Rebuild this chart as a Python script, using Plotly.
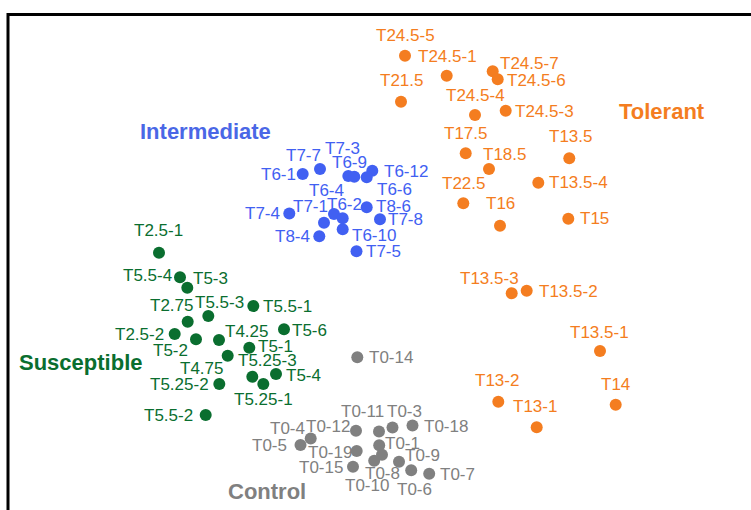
import plotly.graph_objects as go

# ---------------- data (score-plot coordinates) ----------------
tolerant_labels = ["T24.5-5", "T24.5-1", "T24.5-7", "T24.5-6", "T21.5", "T24.5-4", "T24.5-3",
                   "T17.5", "T18.5", "T13.5", "T22.5", "T13.5-4", "T16", "T15",
                   "T13.5-3", "T13.5-2", "T13.5-1", "T13-2", "T14", "T13-1"]
tolerant_x = [405.0, 446.7, 492.7, 497.7, 401.0, 475.0, 505.7, 465.7, 489.0, 569.3, 463.3, 538.3,
              500.0, 568.3, 511.7, 526.7, 600.0, 498.3, 615.7, 536.7]
tolerant_y = [454.3, 434.3, 438.7, 430.7, 408.3, 395.0, 399.3, 356.7, 341.0, 351.7, 306.7, 327.3,
              284.3, 291.3, 216.7, 219.3, 159.0, 108.3, 105.3, 82.7]

intermediate_labels = ["T6-1", "T7-7", "T6-9", "T7-3", "T6-12", "T6-6", "T6-4", "T7-1", "T6-2",
                       "T6-10", "T8-6", "T7-8", "T7-4", "T8-4", "T7-5"]
intermediate_x = [302.7, 320.0, 348.3, 354.3, 372.3, 366.7, 334.0, 324.0, 342.7, 342.7, 366.7,
                  380.0, 289.3, 319.3, 356.5]
intermediate_y = [336.0, 341.0, 334.0, 333.3, 339.3, 332.7, 296.0, 287.3, 291.7, 280.7, 302.7,
                  290.7, 296.5, 273.7, 258.7]

susceptible_labels = ["T2.5-1", "T5.5-4", "T5-3", "T5.5-1", "T5.5-3", "T2.75", "T2.5-2", "T5-6",
                      "T5-2", "T4.25", "T5-1", "T4.75", "T5.25-3", "T5-4", "T5.25-1", "T5.25-2",
                      "T5.5-2"]
susceptible_x = [159.0, 180.0, 187.3, 253.3, 208.3, 187.7, 174.7, 284.0, 196.0, 219.0, 249.3,
                 227.7, 252.3, 276.0, 263.3, 219.3, 205.7]
susceptible_y = [257.3, 232.7, 222.3, 204.0, 194.0, 188.3, 176.0, 180.7, 170.7, 170.0, 162.3,
                 154.3, 133.3, 136.0, 126.0, 126.0, 95.0]

control_labels = ["T0-14", "T0-12", "T0-11", "T0-3", "T0-18", "T0-4", "T0-5", "T0-1", "T0-19",
                  "T0-15", "T0-9", "T0-7", "T0-6", "T0-8", "T0-10"]
control_x = [357.3, 356.0, 379.0, 392.5, 412.5, 310.7, 300.5, 379.2, 356.7, 353.0, 399.0, 429.2,
             411.2, 382.0, 374.2]
control_y = [152.7, 79.3, 78.5, 82.5, 84.5, 71.5, 65.0, 64.7, 59.0, 43.3, 48.2, 36.2, 39.7,
             55.3, 49.3]

group_names = ["Tolerant", "Intermediate", "Susceptible", "Control"]

# ---------------- styles ----------------
colors = {"Tolerant": "#F47D20", "Intermediate": "#4160F2",
          "Susceptible": "#0A6E2F", "Control": "#808080"}
title_colors = {"Tolerant": "#F47D20", "Intermediate": "#4A67E6",
                "Susceptible": "#0A6E2F", "Control": "#808080"}
# label offsets in screen pixels (dx right, dy down) relative to each point
tolerant_offsets = [(0, -20), (1, -19), (37, -8), (39, 1), (0, -21), (0, -20), (39, 1),
                    (0, -20), (15, -15), (1, -22), (0, -20), (40, 0), (0, -22), (26, 0),
                    (-22, -15), (42, 1), (-1, -19), (-1, -21), (0, -20), (-2, -21)]
intermediate_offsets = [(-24, 0), (-17, -14), (1, -14), (-12, -28), (34, 1), (28, 12),
                        (-8, -24), (-14, -16), (2, -14), (31, 6), (27, -1), (25, 0),
                        (-27, 0), (-27, 0), (27, 0)]
susceptible_offsets = [(-1, -22), (-33, -2), (23, -9), (34, 0), (11, -14), (-16, -16),
                       (-35, 0), (25, 1), (-26, 11), (27, -9), (26, -1), (-26, 13),
                       (15, -16), (27, 1), (0, 15), (-40, 0), (-37, 0)]
control_offsets = [(34, 0), (-28, -4), (-17, -20), (12, -16), (33, 1), (-23, -10), (-31, 0),
                   (23, -2), (-27, 1), (-32, 1), (23, -6), (28, 1), (3, 19), (0, 19), (-7, 25)]
# group title positions (screen pixels)
group_title_pos = {"Tolerant": (662, 111), "Intermediate": (205, 132),
                   "Susceptible": (80, 362), "Control": (267, 491)}

W, H = 751, 510
label_font = dict(family="Liberation Sans, Arial, sans-serif", size=17)

groups = [
    ("Tolerant", tolerant_labels, tolerant_x, tolerant_y, tolerant_offsets),
    ("Intermediate", intermediate_labels, intermediate_x, intermediate_y, intermediate_offsets),
    ("Susceptible", susceptible_labels, susceptible_x, susceptible_y, susceptible_offsets),
    ("Control", control_labels, control_x, control_y, control_offsets),
]

fig = go.Figure()
annotations = []
for name, labels, xs, ys, offs in groups:
    fig.add_trace(go.Scatter(
        x=xs, y=ys, mode="markers", name=name, text=labels,
        marker=dict(size=12, color=colors[name], line=dict(width=0)),
        hovertemplate="%{text}<extra>" + name + "</extra>",
    ))
    for lab, xv, yv, (dx, dy) in zip(labels, xs, ys, offs):
        annotations.append(dict(
            x=xv, y=yv, xref="x", yref="y", text=lab, showarrow=False,
            xanchor="center", yanchor="middle", xshift=dx, yshift=-dy,
            font=dict(label_font, color=colors[name]),
        ))
    tx, ty = group_title_pos[name]
    annotations.append(dict(
        x=tx / W, y=1 - ty / H, xref="paper", yref="paper", text="<b>" + name + "</b>",
        showarrow=False, xanchor="center", yanchor="middle",
        font=dict(family="Liberation Sans, Arial, sans-serif", size=22,
                  color=title_colors[name]),
    ))

fig.update_layout(
    width=W, height=H,
    margin=dict(l=0, r=0, t=0, b=0),
    paper_bgcolor="white", plot_bgcolor="white",
    showlegend=False,
    xaxis=dict(range=[0, W], visible=False, fixedrange=True),
    yaxis=dict(range=[0, H], visible=False, fixedrange=True),
    annotations=annotations,
    shapes=[dict(type="rect", xref="paper", yref="paper",
                 x0=8 / W, x1=1.2, y0=-0.2, y1=1 - 14.5 / H,
                 line=dict(color="black", width=3), fillcolor="rgba(0,0,0,0)")],
)

fig.write_html(
    "out.html",
    config={"displayModeBar": False},
    post_script="document.body.style.margin='0';document.body.style.overflow='hidden';",
)
